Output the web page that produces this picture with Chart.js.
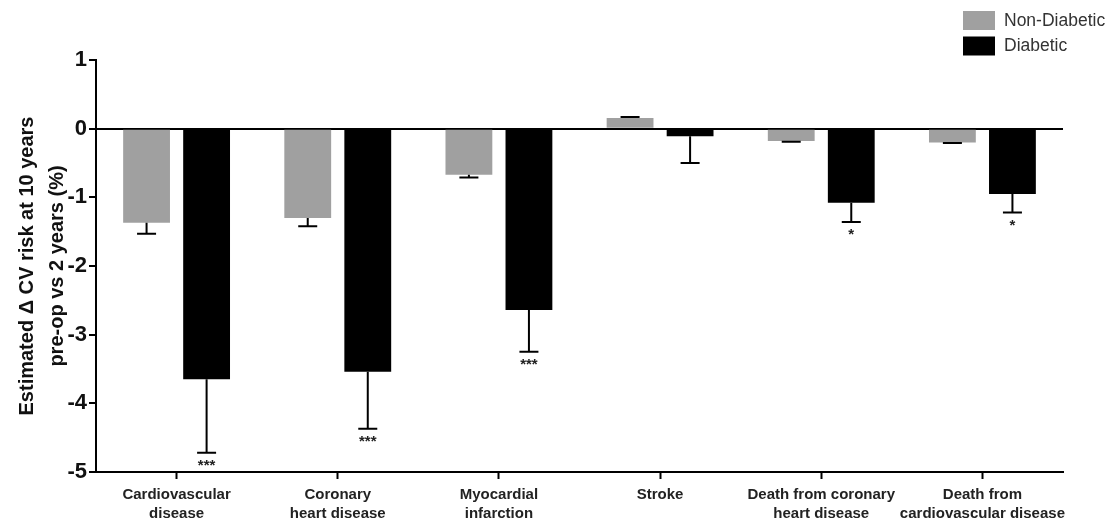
<!DOCTYPE html>
<html>
<head>
<meta charset="utf-8">
<script src="https://cdn.jsdelivr.net/npm/chart.js@4.4.1/dist/chart.umd.min.js"></script>
<style>
  html, body { margin: 0; padding: 0; background: #ffffff; }
  #wrap { width: 1114px; height: 523px; position: relative; }
</style>
</head>
<body>
<div id="wrap"><canvas id="cv"></canvas></div>
<script>
// Outcome categories (x axis)
const categories = [
  ['Cardiovascular', 'disease'],
  ['Coronary', 'heart disease'],
  ['Myocardial', 'infarction'],
  'Stroke',
  ['Death from coronary', 'heart disease'],
  ['Death from', 'cardiovascular disease']
];

// Mean change in estimated 10-year risk (%), with SEM
const nonDiabetic    = [-1.37, -1.30, -0.67, 0.155, -0.18, -0.20];
const nonDiabeticErr = [0.16, 0.12, 0.04, 0.015, 0.01, 0.01];
const diabetic       = [-3.65, -3.54, -2.64, -0.11, -1.08, -0.95];
const diabeticErr    = [1.07, 0.83, 0.61, 0.39, 0.28, 0.27];

// Significance marks (diabetic vs non-diabetic)
const significance = ['***', '***', '***', '', '*', '*'];

// Y axis range and tick step
const yMin = -5;
const yMax = 1;
const yStep = 1;

const seriesNames = ['Non-Diabetic', 'Diabetic'];
const seriesColors = ['#a0a0a0', '#000000'];

const errorBarPlugin = {
  id: 'errorBars',
  afterDatasetsDraw(chart) {
    const ctx = chart.ctx;
    const y = chart.scales.y;
    chart.data.datasets.forEach((ds, i) => {
      const meta = chart.getDatasetMeta(i);
      meta.data.forEach((bar, j) => {
        const v = ds.data[j];
        const e = ds.errors[j];
        const end = v < 0 ? v - e : v + e;
        const y1 = y.getPixelForValue(v);
        const y2 = y.getPixelForValue(end);
        ctx.save();
        ctx.strokeStyle = '#000';
        ctx.lineWidth = 2;
        ctx.beginPath();
        ctx.moveTo(bar.x, y1);
        ctx.lineTo(bar.x, y2);
        ctx.moveTo(bar.x - 9.5, y2);
        ctx.lineTo(bar.x + 9.5, y2);
        ctx.stroke();
        const mark = ds.marks ? ds.marks[j] : '';
        if (mark) {
          ctx.fillStyle = '#222';
          ctx.font = 'bold 15px "Liberation Sans", Arial, sans-serif';
          ctx.textAlign = 'center';
          ctx.textBaseline = 'middle';
          ctx.fillText(mark, bar.x, y2 + 13);
        }
        ctx.restore();
      });
    });
  }
};

const legendPlugin = {
  id: 'boxLegend',
  afterDraw(chart) {
    const ctx = chart.ctx;
    ctx.save();
    chart.data.datasets.forEach((ds, i) => {
      const top = 11 + i * 25.5;
      ctx.fillStyle = ds.backgroundColor;
      ctx.fillRect(963, top, 32, 19);
      ctx.fillStyle = '#333';
      ctx.font = '17.5px "Liberation Sans", Arial, sans-serif';
      ctx.textAlign = 'left';
      ctx.textBaseline = 'middle';
      ctx.fillText(ds.label, 1004, top + 10);
    });
    ctx.restore();
  }
};

new Chart(document.getElementById('cv'), {
  type: 'bar',
  data: {
    labels: categories,
    datasets: [
      {
        label: seriesNames[0],
        data: nonDiabetic,
        errors: nonDiabeticErr,
        backgroundColor: seriesColors[0],
        categoryPercentage: 0.745,
        barPercentage: 0.78
      },
      {
        label: seriesNames[1],
        data: diabetic,
        errors: diabeticErr,
        marks: significance,
        backgroundColor: seriesColors[1],
        categoryPercentage: 0.745,
        barPercentage: 0.78
      }
    ]
  },
  options: {
    responsive: true,
    maintainAspectRatio: false,
    animation: false,
    layout: { padding: { top: 60, right: 51, bottom: 0, left: 0 } },
    plugins: {
      legend: { display: false },
      tooltip: { enabled: false }
    },
    scales: {
      x: {
        grid: {
          offset: false,
          drawOnChartArea: false,
          drawTicks: true,
          tickLength: 7,
          tickWidth: 2,
          tickColor: '#000'
        },
        border: { display: true, color: '#000', width: 2 },
        ticks: {
          color: '#222',
          padding: 6,
          maxRotation: 0,
          autoSkip: false,
          font: { family: '"Liberation Sans", Arial, sans-serif', size: 15, weight: 'bold', lineHeight: 1.27 }
        },
        afterFit(scale) { scale.height = 51; }
      },
      y: {
        min: yMin,
        max: yMax,
        grid: {
          drawOnChartArea: true,
          color: (c) => (c.tick && c.tick.value === 0 ? '#000' : 'rgba(0,0,0,0)'),
          lineWidth: 2,
          tickLength: 7,
          tickWidth: 2,
          tickColor: '#000'
        },
        border: { display: true, color: '#000', width: 2 },
        ticks: {
          stepSize: yStep,
          color: '#111',
          padding: 2,
          font: { family: '"Liberation Sans", Arial, sans-serif', size: 22, weight: 'bold' }
        },
        title: {
          display: true,
          text: ['Estimated \u0394 CV risk at 10 years', 'pre-op vs 2 years (%)'],
          color: '#111',
          padding: { top: 12, bottom: 0 },
          font: { family: '"Liberation Sans", Arial, sans-serif', size: 20, weight: 'bold', lineHeight: 1.5 }
        },
        afterFit(scale) { scale.width = 96; }
      }
    }
  },
  plugins: [errorBarPlugin, legendPlugin]
});
</script>
</body>
</html>
